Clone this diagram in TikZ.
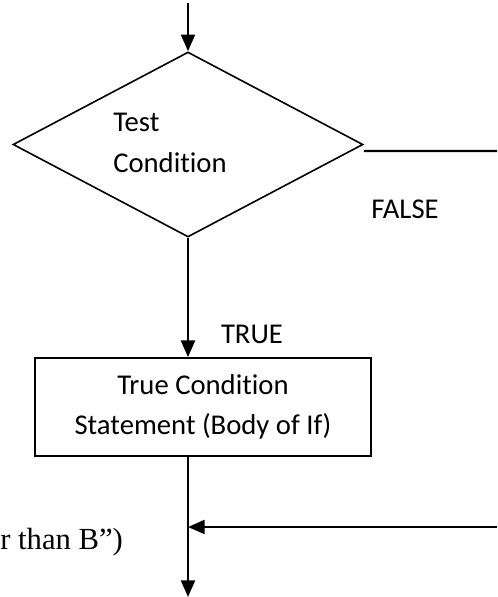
\documentclass[tikz,border=0pt]{standalone}
\usepackage{fontspec}
\setmainfont{Carlito}[Ligatures=NoCommon]
\newfontfamily\serifpart{Liberation Serif}
\usetikzlibrary{shapes.geometric,arrows.meta}
\begin{document}
\begin{tikzpicture}[x=0.75pt,y=-0.75pt,
  flow/.style={line width=1.6pt,-{Triangle[width=10.5pt,length=12.5pt]}},
  plain/.style={line width=1.6pt},
  decision/.style={diamond,draw,line width=1.2pt,inner sep=0pt,
    minimum width=262.5pt,minimum height=138.75pt},
  process/.style={rectangle,draw,line width=1.3pt,minimum width=252pt,
    minimum height=73.5pt,align=center,font=\fontsize{21.5}{30}\selectfont},
  lbl/.style={inner sep=0pt,font=\fontsize{21.5}{30.5}\selectfont}]
\useasboundingbox (0,0) rectangle (497,597);
% decision and its labels
\node[decision] (test) at (188,144.5) {};
\node[lbl,align=left,anchor=west] (testtxt) at (113,143) {Test\\Condition};
\node[lbl] (falselbl) at (405,209) {FALSE};
% body of the if
\node[process] (body) at (203,407) {True Condition\\Statement (Body of If)};
\node[lbl] (truelbl) at (252,334) {TRUE};
\node[inner sep=0pt,anchor=base west,font=\serifpart\fontsize{23}{28}\selectfont] (note) at (0,549) {r than B”)};
% free ends of the connectors
\coordinate (start) at (188,3);
\coordinate (falseend) at (497,151);
\coordinate (join) at (188,527);
\coordinate (mergein) at (497,527);
\coordinate (finish) at (188,597);
% connectors
\draw[flow] (start) -- (test.north);
\draw[flow] (test.south) -- (test.south |- body.north);
\draw[plain] ([yshift=-4.9pt]test.east) -- (falseend);
\draw[flow] (test.south |- body.south) -- (finish);
\draw[flow] (mergein) -- (join);
\end{tikzpicture}
\end{document}
